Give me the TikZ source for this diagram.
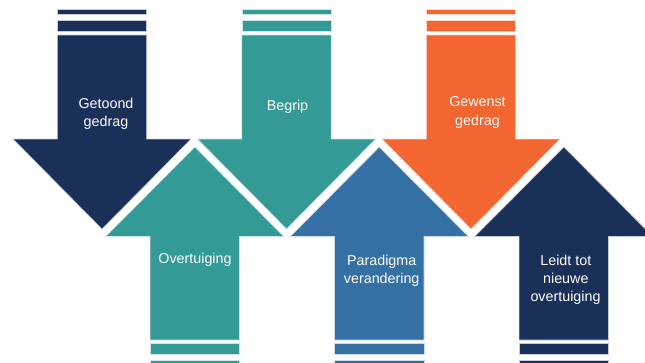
\documentclass[tikz,border=0pt]{standalone}
\usepackage{fontspec}
\setmainfont{Liberation Sans}
\definecolor{cnavy}{RGB}{27,48,89}
\definecolor{cteal}{RGB}{52,154,150}
\definecolor{corange}{RGB}{243,101,49}
\definecolor{cblue}{RGB}{53,112,164}
\tikzset{
  shapefill/.style={fill=#1, draw=white!75!#1, line width=0.6pt},
  lbl/.style={text=white, inner sep=0pt, anchor=base, font=\fontsize{14.3}{18.3}\selectfont}
}
\begin{document}
\begin{tikzpicture}[x=1pt,y=-1pt]
\useasboundingbox (0,0) rectangle (645,362);
\clip (0,0) rectangle (645,362);
% down arrows
\foreach \c/\col in {102/cnavy,286.5/cteal,471/corange}{
  \path[shapefill=\col] ({\c-44.7},9) rectangle ({\c+44.7},14.3);
  \path[shapefill=\col] ({\c-44.7},20) rectangle ({\c+44.7},31.5);
  \path[shapefill=\col] ({\c-44.7},35) -- ({\c+44.7},35) -- ({\c+44.7},139) -- ({\c+89},139)
     -- (\c,229) -- ({\c-89},139) -- ({\c-44.7},139) -- cycle;
}
% up arrows
\foreach \u/\col in {194.8/cteal,379.3/cblue,563.8/cnavy}{
  \path[shapefill=\col] ({\u-44.7},343) rectangle ({\u+44.7},354);
  \path[shapefill=\col] ({\u-44.7},360) rectangle ({\u+44.7},370);
  \path[shapefill=\col] (\u,147) -- ({\u+89},236.5) -- ({\u+44.7},236.5) -- ({\u+44.7},340)
     -- ({\u-44.7},340) -- ({\u-44.7},236.5) -- ({\u-89},236.5) -- cycle;
}
% labels
\node[lbl] (t1a) at (106,108) {Getoond};
\node[lbl] (t1b) at (106,126.3) {gedrag};
\node[lbl] (t2a) at (287.5,110.5) {Begrip};
\node[lbl] (t3a) at (477.5,106.7) {Gewenst};
\node[lbl] (t3b) at (477.5,125) {gedrag};
\node[lbl] (t4a) at (195,263.5) {Overtuiging};
\node[lbl] (t5a) at (381.7,265) {Paradigma};
\node[lbl] (t5b) at (381.7,283.3) {verandering};
\node[lbl] (t6a) at (565.8,265) {Leidt tot};
\node[lbl] (t6b) at (565.8,283.3) {nieuwe};
\node[lbl] (t6c) at (565.5,301.6) {overtuiging};
\end{tikzpicture}
\end{document}
